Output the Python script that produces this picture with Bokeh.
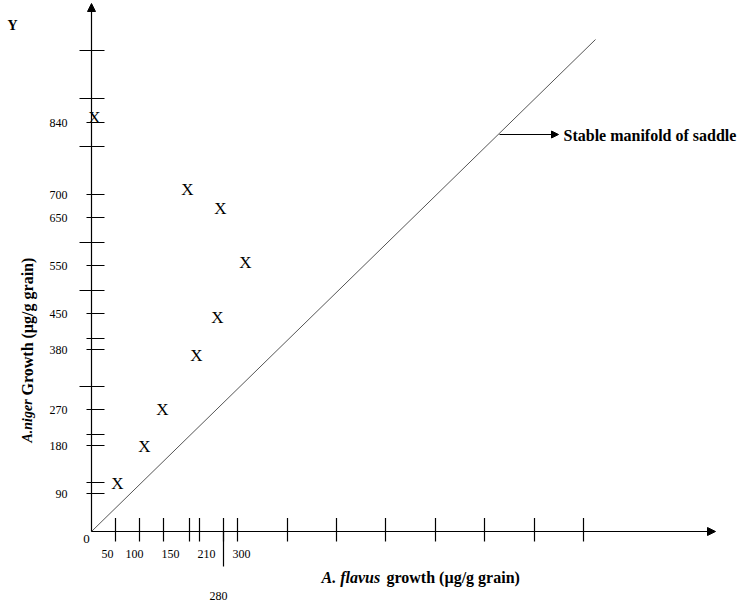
from bokeh.plotting import figure
from bokeh.models import Range1d, Arrow, NormalHead
from bokeh.core.properties import value
from bokeh.embed import file_html
from bokeh.resources import INLINE
import math

# ---- data (drawing units: origin of the axes at 0,0) ----
pts_x = [3, 96, 129, 154, 126, 105, 71, 53, 26]
pts_y = [414, 342, 323, 269, 214, 176, 122, 85, 48]

y_ticks_long = [481, 433, 385, 289, 241, 145]
y_ticks_short = [409, 337, 314, 266, 218, 193, 182, 122, 97, 86, 49, 38]
y_tick_labels = ["840", "700", "650", "550", "450", "380", "270", "180", "90"]
y_tick_label_pos = [409, 337, 314, 266, 218, 182, 122, 86, 38]

x_ticks = [24, 48, 72, 98, 108, 132, 146, 196, 245, 294, 344, 393, 443, 492]
x_tick_extra_long = [132]
x_tick_labels = ["50", "100", "150", "210", "300"]
x_tick_label_pos = [16, 43, 79, 115, 150]
x_tick_label_low = ["280"]
x_tick_label_low_pos = [127]

manifold_x = [0, 504]
manifold_y = [0, 492]

axis_x_max = 624
axis_y_max = 528

FONT = value("Liberation Serif")

p = figure(width=737, height=605, output_backend="svg", toolbar_location=None,
           x_range=Range1d(-91, 646), y_range=Range1d(-74, 531),
           x_axis_location=None, y_axis_location=None, min_border=0,
           outline_line_color=None, tools="")
p.styles = {"position": "absolute", "left": "0px", "top": "0px"}
p.xgrid.visible = False
p.ygrid.visible = False
p.background_fill_color = "white"
p.border_fill_color = "white"

# axes with arrows
p.add_layout(Arrow(end=NormalHead(size=8, fill_color="black", line_color="black"),
                   x_start=0, y_start=0, x_end=0, y_end=axis_y_max,
                   line_color="black", line_width=1.2))
p.add_layout(Arrow(end=NormalHead(size=8, fill_color="black", line_color="black"),
                   x_start=0, y_start=0, x_end=axis_x_max, y_end=0,
                   line_color="black", line_width=1.2))

# y ticks
p.segment(x0=[-12] * len(y_ticks_long), x1=[13] * len(y_ticks_long),
          y0=y_ticks_long, y1=y_ticks_long, line_color="black", line_width=1.2)
p.segment(x0=[-5] * len(y_ticks_short), x1=[13] * len(y_ticks_short),
          y0=y_ticks_short, y1=y_ticks_short, line_color="black", line_width=1.2)
p.text(x=[-24] * len(y_tick_labels), y=y_tick_label_pos, text=y_tick_labels,
       text_font=FONT, text_font_size="12px", text_align="right",
       text_baseline="middle", text_color="black")

# x ticks
p.segment(x0=x_ticks, x1=x_ticks, y0=[13.5] * len(x_ticks), y1=[-10] * len(x_ticks),
          line_color="black", line_width=1.2)
p.segment(x0=x_tick_extra_long, x1=x_tick_extra_long, y0=[0], y1=[-35],
          line_color="black", line_width=1.2)
p.text(x=x_tick_label_pos, y=[-22] * len(x_tick_labels), text=x_tick_labels,
       text_font=FONT, text_font_size="12px", text_align="center",
       text_baseline="middle", text_color="black")
p.text(x=x_tick_label_low_pos, y=[-64], text=x_tick_label_low,
       text_font=FONT, text_font_size="12px", text_align="center",
       text_baseline="middle", text_color="black")
p.text(x=[-5], y=[-7], text=["0"], text_font=FONT, text_font_size="13px",
       text_align="center", text_baseline="middle", text_color="black")

# stable manifold line
p.line(manifold_x, manifold_y, line_color="#555555", line_width=1)
p.add_layout(Arrow(end=NormalHead(size=7, fill_color="black", line_color="black"),
                   x_start=408, y_start=397, x_end=467, y_end=397,
                   line_color="black", line_width=1.2))
p.text(x=[472], y=[396], text=["Stable manifold of saddle"], text_font=FONT,
       text_font_size="16px", text_font_style="bold", text_align="left",
       text_baseline="middle", text_color="black")

# data points as "X"
p.text(x=pts_x, y=pts_y, text=["X"] * len(pts_x), text_font=FONT,
       text_font_size="17px", text_align="center", text_baseline="middle",
       text_color="black")

# labels
p.text(x=[-79], y=[506], text=["Y"], text_font=FONT, text_font_size="14px",
       text_font_style="bold", text_align="center", text_baseline="middle",
       text_color="black")
p.text(x=[230], y=[-46], text=["A. flavus"], text_font=FONT, text_font_size="16px",
       text_font_style="bold italic", text_align="left", text_baseline="middle",
       text_color="black")
p.text(x=[295], y=[-46], text=["growth (µg/g grain)"], text_font=FONT,
       text_font_size="16px", text_font_style="bold", text_align="left",
       text_baseline="middle", text_color="black")
p.text(x=[-64], y=[89], text=["A.niger"], text_font=FONT, text_font_size="14px",
       text_font_style="bold italic", text_align="left", text_baseline="middle",
       angle=math.pi / 2, text_color="black")
p.text(x=[-64], y=[136], text=["Growth (µg/g grain)"], text_font=FONT,
       text_font_size="16px", text_font_style="bold", text_align="left",
       text_baseline="middle", angle=math.pi / 2, text_color="black")

open("out.html", "w").write(file_html(p, INLINE))
